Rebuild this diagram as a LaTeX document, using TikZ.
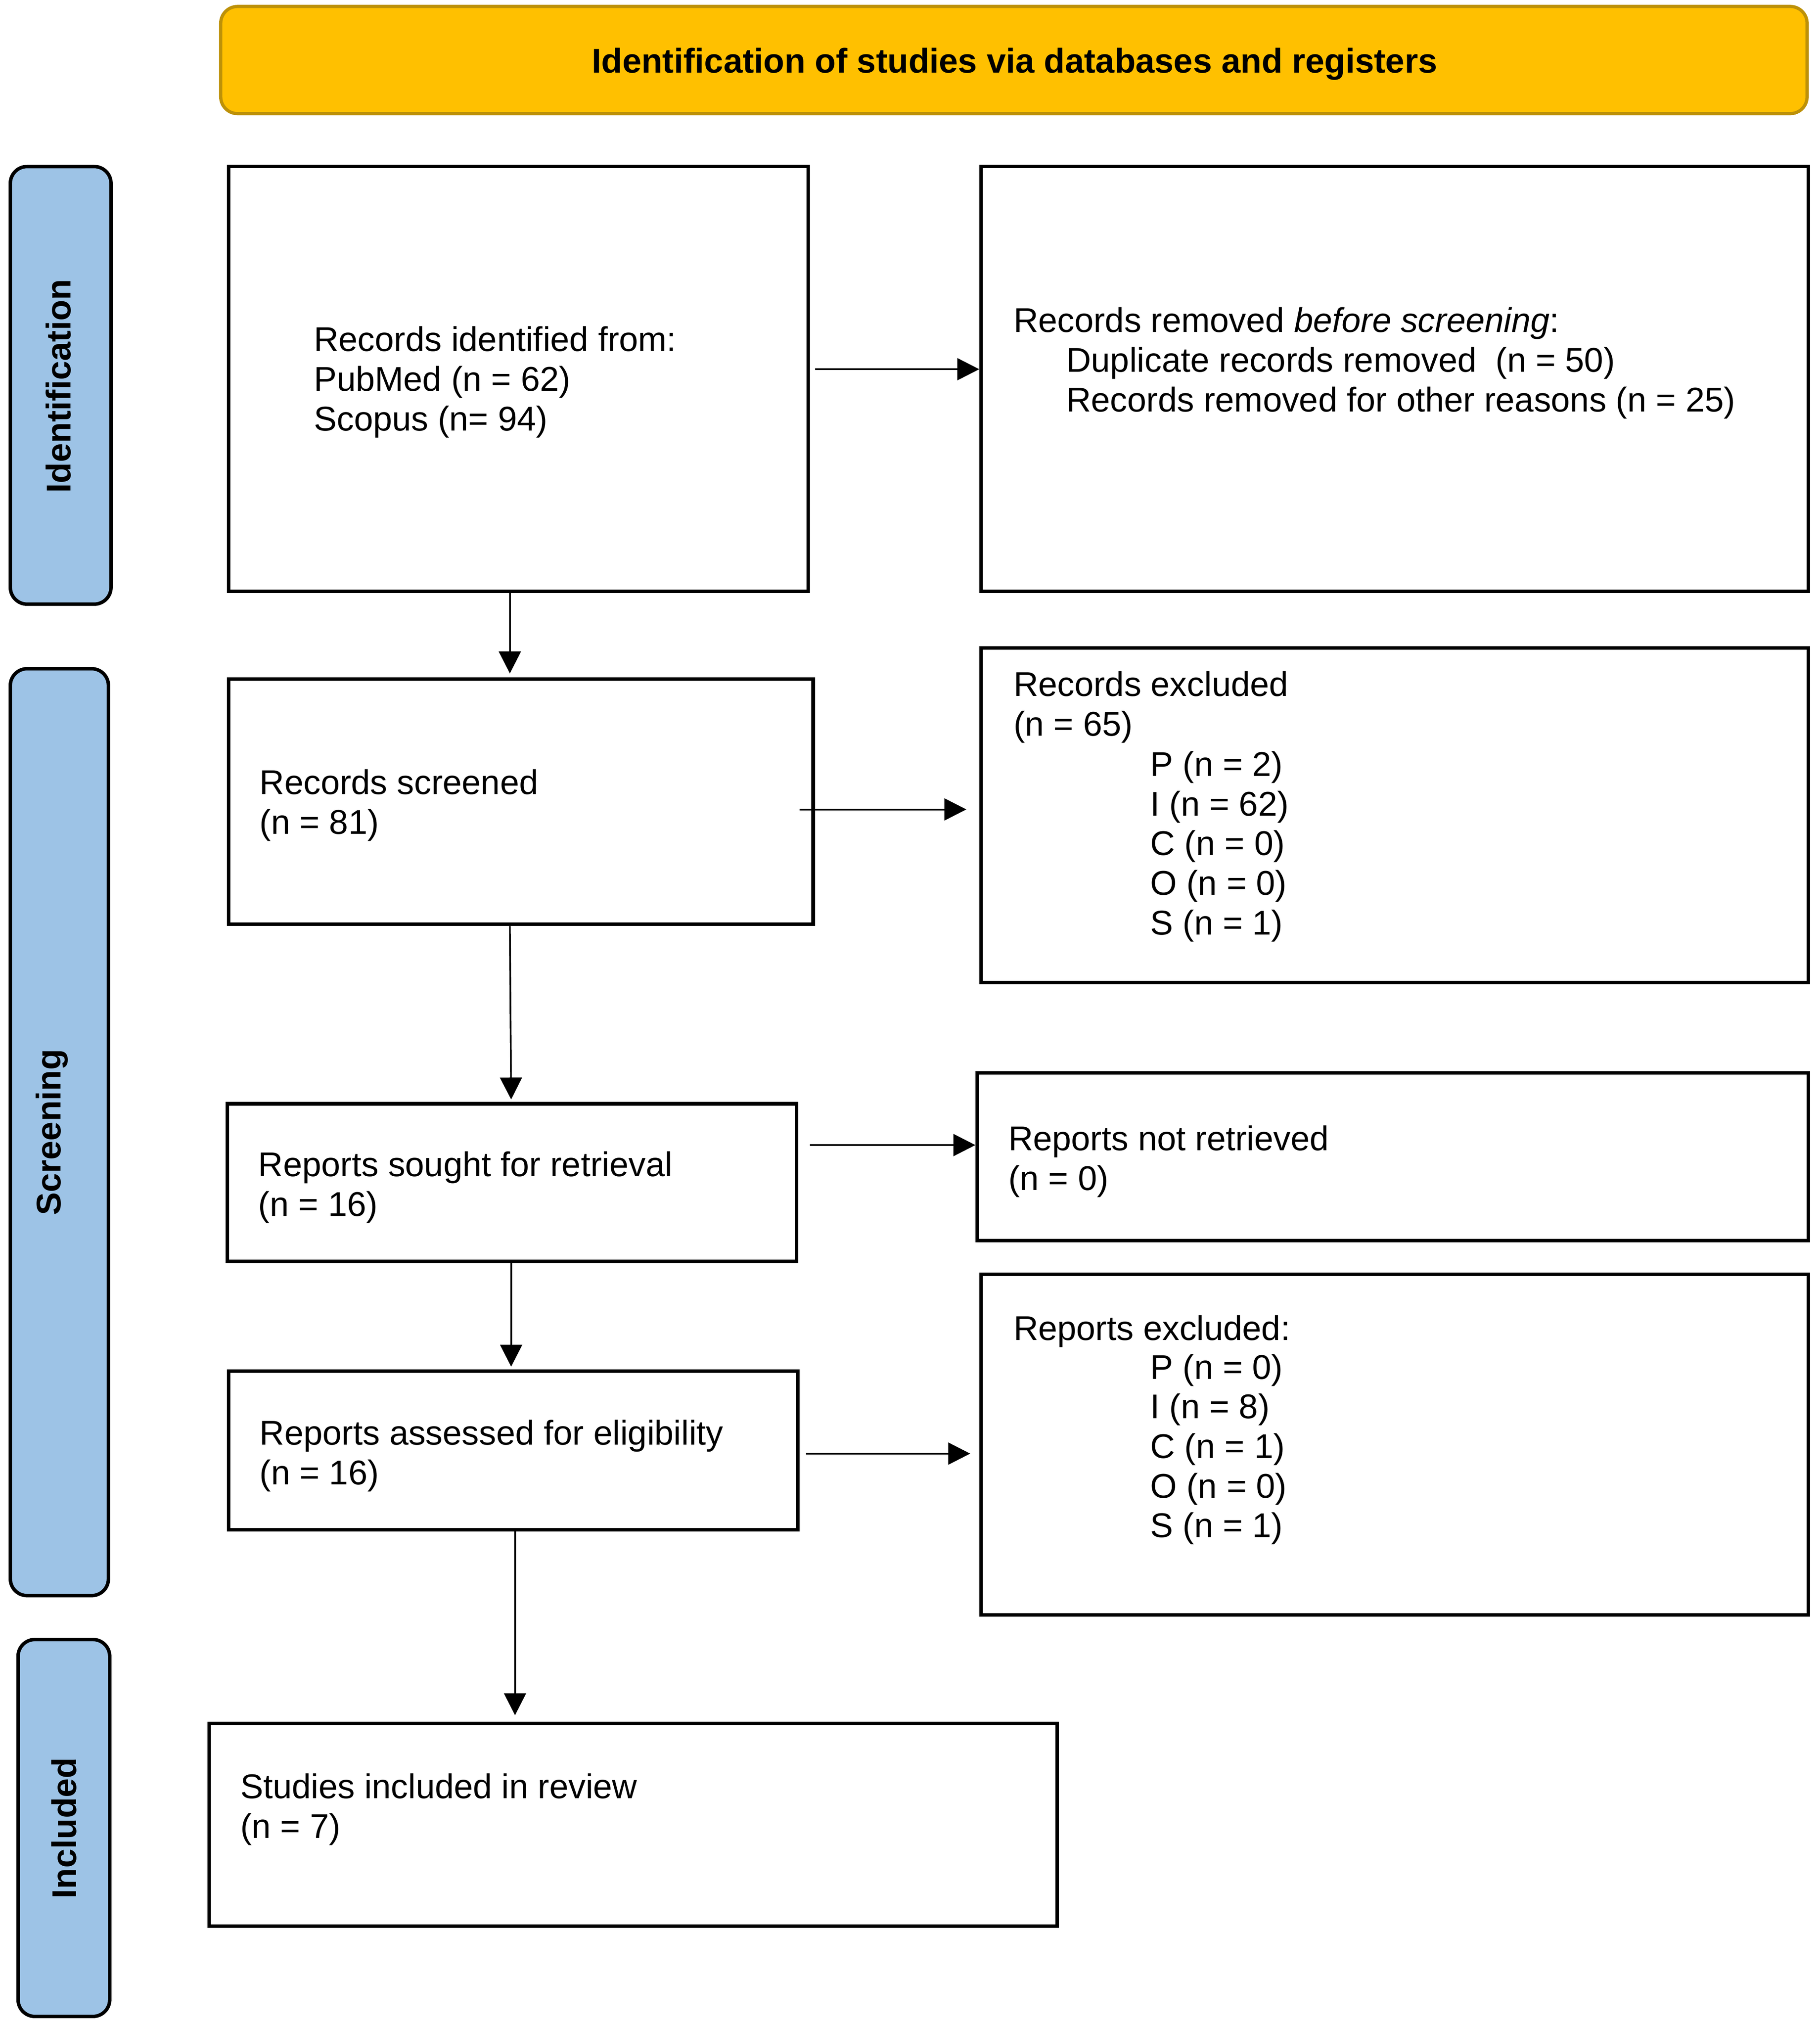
\documentclass[tikz,border=0pt]{standalone}
\usepackage{fontspec}
\setmainfont{Liberation Sans}
\usetikzlibrary{arrows.meta}
\definecolor{hdrfill}{HTML}{FFC000}
\definecolor{hdrline}{HTML}{BD9108}
\definecolor{phasefill}{HTML}{9DC3E6}
\newcommand\fst{\rule{0pt}{21pt}}
\begin{document}
\begin{tikzpicture}[x=1pt,y=-1pt,
  box/.style={draw=black, line width=2.7pt, fill=white, inner sep=0pt},
  hdr/.style={draw=hdrline, line width=2.5pt, fill=hdrfill, rounded corners=13pt, inner sep=0pt},
  phase/.style={draw=black, line width=2.7pt, fill=phasefill, rounded corners=13pt, inner sep=0pt},
  txt/.style={anchor=north west, inner sep=0pt, align=left, font=\fontsize{26.6}{30.7}\selectfont},
  ptxt/.style={anchor=base, rotate=90, inner sep=0pt, font=\fontsize{26.6}{30.7}\selectfont\bfseries},
  arr/.style={line width=1.3pt, -{Triangle[length=17pt,width=17pt]}},
  darr/.style={line width=1.3pt, -{Triangle[length=17pt,width=17pt]}},
]
\useasboundingbox[fill=white] (0,0) rectangle (1410,1569.4);

% header
\node[hdr, minimum width=1229pt, minimum height=83pt] (hdr) at (785.5,46.5) {};
\node[anchor=base, inner sep=0pt, font=\fontsize{26.6}{30.7}\selectfont\bfseries] (hdrtxt) at (786,56.5) {Identification of studies via databases and registers};

% phase labels
\node[phase, minimum width=78pt, minimum height=339pt] (pid) at (47,298.5) {};
\node[ptxt] (pidt) at (54.6,299) {Identification};
\node[phase, minimum width=76pt, minimum height=718pt] (pscr) at (46,877) {};
\node[ptxt] (pscrt) at (47,877) {Screening};
\node[phase, minimum width=71pt, minimum height=292pt] (pinc) at (49.5,1416) {};
\node[ptxt] (pinct) at (59,1416) {Included};

% boxes
\node[box, minimum width=449pt, minimum height=329pt] (A) at (401.5,293.5) {};
\node[box, minimum width=641pt, minimum height=329pt] (B) at (1080.5,293.5) {};
\node[box, minimum width=453pt, minimum height=190pt] (C) at (403.5,621) {};
\node[box, minimum width=641pt, minimum height=259pt] (D) at (1080.5,631.5) {};
\node[box, minimum width=441pt, minimum height=122pt] (E) at (396.5,916) {};
\node[box, minimum width=644pt, minimum height=130pt] (F) at (1079,896) {};
\node[box, minimum width=441pt, minimum height=123pt] (G) at (397.5,1123.5) {};
\node[box, minimum width=641pt, minimum height=264pt] (H) at (1080.5,1119) {};
\node[box, minimum width=657pt, minimum height=157pt] (I) at (490.5,1413.5) {};

% texts
\node[txt] (At) at (243,251) {\fst Records identified from:\\PubMed (n = 62)\\Scopus (n= 94)};
\node[txt] (Bt1) at (785,236) {\fst Records removed \textit{before screening}:};
\node[txt] (Bt2) at (826,267) {\fst Duplicate records removed\ \ (n = 50)\\Records removed for other reasons (n = 25)};
\node[txt] (Ct) at (201,594) {\fst Records screened\\(n = 81)};
\node[txt] (Dt1) at (785,518) {\fst Records excluded\\(n = 65)};
\node[txt] (Dt2) at (891,580) {\fst P (n = 2)\\I (n = 62)\\C (n = 0)\\O (n = 0)\\S (n = 1)};
\node[txt] (Et) at (200,890) {\fst Reports sought for retrieval\\(n = 16)};
\node[txt] (Ft) at (781,870) {\fst Reports not retrieved\\(n = 0)};
\node[txt] (Gt) at (201,1098) {\fst Reports assessed for eligibility\\(n = 16)};
\node[txt] (Ht1) at (785,1017) {\fst Reports excluded:};
\node[txt] (Ht2) at (891,1047) {\fst P (n = 0)\\I (n = 8)\\C (n = 1)\\O (n = 0)\\S (n = 1)};
\node[txt] (It) at (186,1372) {\fst Studies included in review\\(n = 7)};

% horizontal arrows
\draw[arr] ([xshift=4pt,yshift=7.5pt]A.east) -- ([yshift=7.5pt]B.west);
\draw[arr] ([xshift=-12pt,yshift=-6pt]C.east) -- ([xshift=-10pt,yshift=4.5pt]D.west);
\draw[arr] ([xshift=9pt,yshift=29pt]E.east) -- ([yshift=9pt]F.west);
\draw[arr] ([xshift=5pt,yshift=-2.5pt]G.east) -- ([xshift=-7pt,yshift=-7pt]H.west);

% vertical arrows
\draw[darr] ([xshift=-6.5pt]A.south) -- ([xshift=-8.5pt,yshift=3pt]C.north);
\draw[darr] ([xshift=-8.5pt]C.south) -- ([xshift=-0.5pt,yshift=2pt]E.north);
\draw[darr] ([xshift=-0.5pt]E.south) -- ([xshift=-1.5pt,yshift=2pt]G.north);
\draw[darr] ([xshift=1.5pt]G.south) -- ([xshift=-91.5pt,yshift=5pt]I.north);
\end{tikzpicture}
\end{document}
